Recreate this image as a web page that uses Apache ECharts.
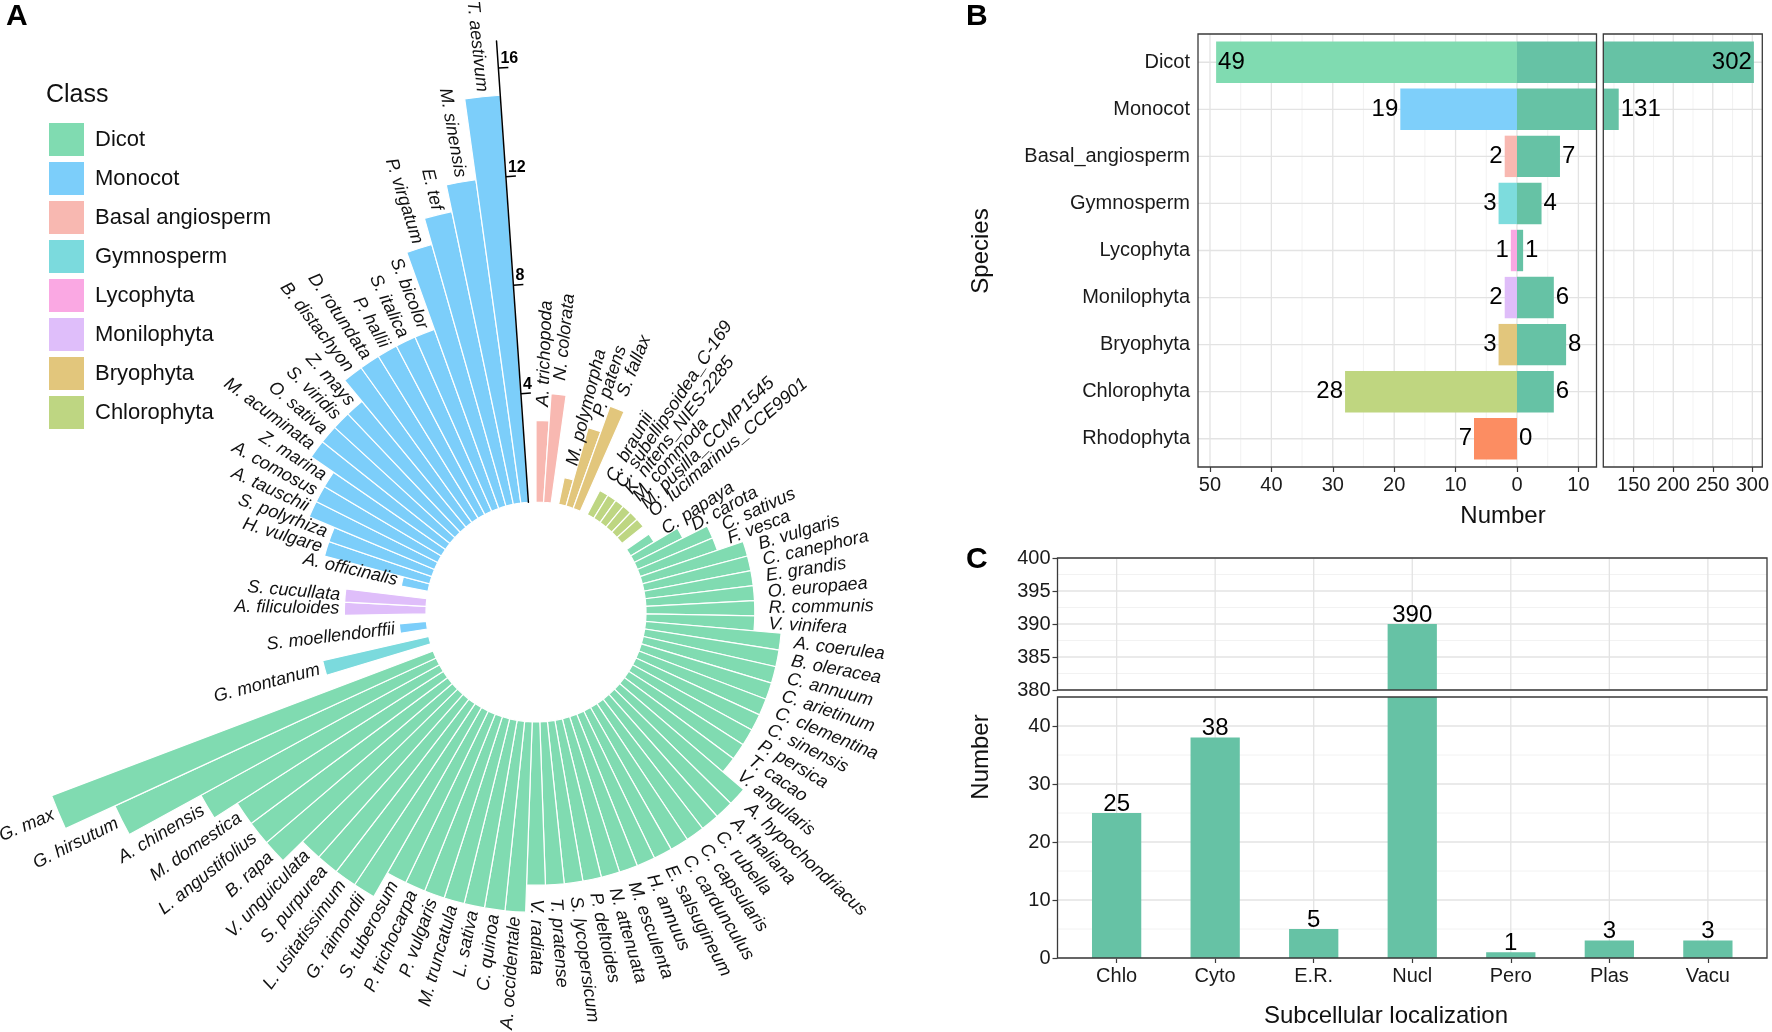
<!DOCTYPE html>
<html><head><meta charset="utf-8">
<script src="https://cdn.jsdelivr.net/npm/echarts@6/dist/echarts.min.js"></script>
<style>html,body{margin:0;padding:0;background:#fff}#c{width:1772px;height:1032px}</style>
</head><body><div id="c"></div>
<script>
// ================= Panel A data (clockwise from the radial axis) =================
const classNames  = ['Dicot','Monocot','Basal angiosperm','Gymnosperm','Lycophyta','Monilophyta','Bryophyta','Chlorophyta'];
const classColors = ['#80dbb1','#7ccefa','#f8b8b1','#7bdadd','#faa8e3','#dfbefa','#e2c67c','#bed682'];
// In the reference the S. moellendorffii bar is drawn in the Monocot blue
const drawnColorOverride = {'S. moellendorffii':'Monocot'};

const basalSpecies = ['A. trichopoda','N. colorata'];
const basalGenes   = [3,4];
const bryoSpecies  = ['M. polymorpha','P. patens','S. fallax'];
const bryoGenes    = [1,3,4];
const chloroSpecies = ['C. braunii','C. subellipsoidea_C-169','K. nitens_NIES-2285','M. commoda','M. pusilla_CCMP1545','O. lucimarinus_CCE9901'];
const chloroGenes   = [1,1,1,1,1,1];
const dicotSpecies = ['C. papaya','D. carota','C. sativus','F. vesca','B. vulgaris','C. canephora','E. grandis','O. europaea','R. communis','V. vinifera',
  'A. coerulea','B. oleracea','C. annuum','C. arietinum','C. clementina','C. sinensis','P. persica','T. cacao','V. angularis',
  'A. hypochondriacus','A. thaliana','C. rubella','C. capsularis','C. cardunculus','E. salsugineum','H. annuus','M. esculenta','N. attenuata','P. deltoides','S. lycopersicum','T. pratense','V. radiata',
  'A. occidentale','C. quinoa','L. sativa','M. truncatula','P. vulgaris','P. trichocarpa','S. tuberosum',
  'G. raimondii','L. usitatissimum','S. purpurea','V. unguiculata','B. rapa','L. angustifolius','M. domestica','A. chinensis','G. hirsutum','G. max'];
const dicotGenes = [1,2,3,3,4,4,4,4,4,4,
  5,5,5,5,5,5,5,5,5,
  6,6,6,6,6,6,6,6,6,6,6,6,6,
  7,7,7,7,7,7,7,
  8,8,8,8,9,9,9,10,13,15];
const gymnoSpecies = ['G. montanum'];
const gymnoGenes   = [4];
const lycoSpecies  = ['S. moellendorffii'];
const lycoGenes    = [1];
const moniloSpecies = ['A. filiculoides','S. cucullata'];
const moniloGenes   = [3,3];
const monocotSpecies = ['A. officinalis','H. vulgare','S. polyrhiza','A. tauschii','A. comosus','Z. marina','M. acuminata','O. sativa','S. viridis','Z. mays',
  'B. distachyon','D. rotundata','P. hallii','S. italica','S. bicolor','P. virgatum','E. tef','M. sinensis','T. aestivum'];
const monocotGenes = [1,4,4,5,5,5,6,6,6,6,7,7,7,7,7,10,11,12,15];
const radialTicks = [4,8,12,16];
const radialMax = 17;

// ================= Panel B data =================
const bClasses      = ['Dicot','Monocot','Basal_angiosperm','Gymnosperm','Lycophyta','Monilophyta','Bryophyta','Chlorophyta','Rhodophyta'];
const bSpeciesCount = [49,19,2,3,1,2,3,28,7];
const bGeneCount    = [302,131,7,4,1,6,8,6,0];
const bLeftColors   = ['#80dbb1','#7ecffa','#f8b8b1','#7ddcdd','#f9a8e3','#dfbdf9','#e2c67c','#bfd680','#fc8d62'];
const bLeftTicks       = [-50,-40,-30,-20,-10,0,10];
const bLeftMinorTicks  = [-45,-35,-25,-15,-5,5];
const bRightTicks      = [150,200,250,300];
const bRightMinorTicks = [125,175,225,275];

// ================= Panel C data =================
const cCats   = ['Chlo','Cyto','E.R.','Nucl','Pero','Plas','Vacu'];
const cValues = [25,38,5,390,1,3,3];
const cUpperTicks = [380,385,390,395,400];
const cUpperMinor = [382.5,387.5,392.5,397.5];
const cLowerTicks = [0,10,20,30,40];
const cLowerMinor = [5,15,25,35,45];

// ================= build slots for panel A =================
const groupsA = [
  ['Basal angiosperm', basalSpecies, basalGenes],
  ['Bryophyta', bryoSpecies, bryoGenes],
  ['Chlorophyta', chloroSpecies, chloroGenes],
  ['Dicot', dicotSpecies, dicotGenes],
  ['Gymnosperm', gymnoSpecies, gymnoGenes],
  ['Lycophyta', lycoSpecies, lycoGenes],
  ['Monilophyta', moniloSpecies, moniloGenes],
  ['Monocot', monocotSpecies, monocotGenes]
];
const slotName = [], slotValue = [], slotClass = [];
groupsA.forEach(([cls, sp, gn]) => {
  sp.forEach((s, i) => { slotName.push(s); slotValue.push(gn[i]); slotClass.push(cls); });
  slotName.push(''); slotValue.push(null); slotClass.push(null);
});
const nSlots = slotName.length;

const FONT = '"Liberation Sans", Arial, Helvetica, sans-serif';
const MAJOR = '#e3e3e3', MINOR = '#f0f0f0', FRAME = '#3a3a3a';
const CENTER = [536, 612], RADII = [110, 110 + 27.2 * radialMax];

const seriesA = classNames.map((cls, ci) => ({
  type: 'bar', name: cls, coordinateSystem: 'polar', polarIndex: 0, stack: 'A',
  barCategoryGap: '0%', z: 2, silent: true,
  itemStyle: { color: classColors[ci], borderColor: '#fff', borderWidth: 1.2 },
  data: slotValue.map((v, i) => {
    if (slotClass[i] !== cls) return '-';
    const ov = drawnColorOverride[slotName[i]];
    return ov ? { value: v, itemStyle: { color: classColors[classNames.indexOf(ov)] } } : v;
  })
}));

const labelSeriesA = {
  type: 'custom', coordinateSystem: 'polar', polarIndex: 0, z: 5, silent: true,
  data: slotValue.map((v, i) => [v, i]).filter(d => d[0] !== null),
  renderItem(params, api) {
    const v = api.value(0), idx = api.value(1);
    const p = api.coord([v, idx]);
    const cx = params.coordSys.cx, cy = params.coordSys.cy;
    const dx = p[0] - cx, dy = p[1] - cy, d = Math.hypot(dx, dy);
    const right = dx > -1;
    const pad = right ? 14 : 5;
    const x = cx + dx / d * (d + pad), y = cy + dy / d * (d + pad);
    const theta = Math.atan2(-dy, dx);
    return { type: 'text', x, y, rotation: right ? theta : theta + Math.PI,
      style: { text: slotName[idx], fill: '#111', fontSize: 18, fontStyle: 'italic', fontFamily: FONT,
               align: right ? 'left' : 'right', verticalAlign: 'middle' } };
  }
};

const radialTickSeries = {
  type: 'custom', coordinateSystem: 'polar', polarIndex: 1, z: 12, silent: true,
  data: radialTicks.map(v => [v, 0]),
  renderItem(params, api) {
    const v = api.value(0);
    const p = api.coord([v, 0]);
    const cx = params.coordSys.cx, cy = params.coordSys.cy;
    const dx = p[0] - cx, dy = p[1] - cy, d = Math.hypot(dx, dy);
    const ux = dx / d, uy = dy / d, px = -uy, py = ux;
    return { type: 'group', children: [
      { type: 'line', shape: { x1: p[0], y1: p[1], x2: p[0] + px * 10, y2: p[1] + py * 10 }, style: { stroke: '#000', lineWidth: 1.5 } },
      { type: 'text', x: p[0] + px * 2, y: p[1] + py * 2 - 1,
        style: { text: String(v), fill: '#000', fontSize: 16, fontWeight: 'bold', fontFamily: FONT, align: 'left', verticalAlign: 'bottom' } }
    ]};
  }
};

// ---------- panel frames (ggplot panel border incl. 0.6-band expansion) ----------
const FR = {
  b1: { x: 1198,   y: 34,  w: 398.5, h: 433 },
  b2: { x: 1603.3, y: 34,  w: 159,   h: 433 },
  c1: { x: 1057.5, y: 558, w: 709.5, h: 132 },
  c2: { x: 1057.5, y: 697, w: 709.5, h: 261 }
};
const bBand = FR.b1.h / (bClasses.length + 0.2);
const cBand = FR.c1.w / (cCats.length + 0.2);

// ---------- grid-line helper (drawn through the library's scales) ----------
function lines(xi, yi, dir, vals, fr, color, w) {
  return { type: 'custom', xAxisIndex: xi, yAxisIndex: yi, z: 1, silent: true,
    data: vals.map(v => dir === 'v' ? [v, 0] : [0, v]),
    renderItem(params, api) {
      if (dir === 'v') {
        const x = api.coord([api.value(0), 0])[0];
        return { type: 'line', shape: { x1: x, y1: fr.y, x2: x, y2: fr.y + fr.h }, style: { stroke: color, lineWidth: w } };
      }
      const y = api.coord([0, api.value(1)])[1];
      return { type: 'line', shape: { x1: fr.x, y1: y, x2: fr.x + fr.w, y2: y }, style: { stroke: color, lineWidth: w } };
    } };
}

const B_LEFT = [-51.95, 12.95], B_RIGHT = [111.5, 311];
const C_UP = [380, 400], C_LOW = [0, 45];
const axisTxt = { color: '#1a1a1a', fontSize: 20, fontFamily: FONT };
const tickStyle = { show: true, length: 5, lineStyle: { color: FRAME, width: 1.2 } };
const bGridTop = FR.b1.y + 0.1 * bBand, bGridH = bBand * bClasses.length;
const cGridLeft = FR.c1.x + 0.1 * cBand, cGridW = cBand * cCats.length;
const valLabel = { fontSize: 24, color: '#000', fontFamily: FONT };

const option = {
  animation: false,
  backgroundColor: '#fff',
  textStyle: { fontFamily: FONT },
  legend: {
    orient: 'vertical', left: 42, top: 116, itemWidth: 37, itemHeight: 35, itemGap: 2,
    icon: 'rect', selectedMode: false, data: classNames,
    textStyle: { fontSize: 22, color: '#111', fontFamily: FONT, padding: [0, 0, 0, 5] }
  },
  polar: [ { center: CENTER, radius: RADII }, { center: CENTER, radius: RADII } ],
  angleAxis: [
    { polarIndex: 0, type: 'category', data: slotName.map((n, i) => 's' + i), startAngle: 90, clockwise: true, boundaryGap: true, show: false },
    { polarIndex: 1, type: 'value', min: 0, max: 360, startAngle: 90 + 360 / nSlots, show: false }
  ],
  radiusAxis: [
    { polarIndex: 0, type: 'value', min: 0, max: radialMax, show: false },
    { polarIndex: 1, type: 'value', min: 0, max: radialMax, z: 10, axisLine: { show: true, lineStyle: { color: '#000', width: 1.5 } },
      axisTick: { show: false }, axisLabel: { show: false }, splitLine: { show: false } }
  ],
  grid: [
    { left: FR.b1.x, top: bGridTop, width: FR.b1.w, height: bGridH },
    { left: FR.b2.x, top: bGridTop, width: FR.b2.w, height: bGridH },
    { left: cGridLeft, top: FR.c1.y, width: cGridW, height: FR.c1.h },
    { left: cGridLeft, top: FR.c2.y, width: cGridW, height: FR.c2.h }
  ],
  xAxis: [
    { gridIndex: 0, type: 'value', min: B_LEFT[0], max: B_LEFT[1], minInterval: 10, maxInterval: 10,
      offset: FR.b1.y + FR.b1.h - (bGridTop + bGridH),
      axisLine: { show: false }, axisTick: tickStyle, splitLine: { show: false },
      axisLabel: Object.assign({}, axisTxt, { margin: 8, showMinLabel: false, showMaxLabel: false,
        formatter: v => (Math.abs(v % 10) < 1e-6 ? String(Math.abs(v)) : '') }) },
    { gridIndex: 1, type: 'value', min: B_RIGHT[0], max: B_RIGHT[1], minInterval: 50, maxInterval: 50,
      offset: FR.b2.y + FR.b2.h - (bGridTop + bGridH),
      axisLine: { show: false }, axisTick: tickStyle, splitLine: { show: false },
      axisLabel: Object.assign({}, axisTxt, { margin: 8, showMinLabel: false, showMaxLabel: false,
        formatter: v => (Math.abs(v % 50) < 1e-6 ? String(v) : '') }) },
    { gridIndex: 2, type: 'category', data: cCats, axisLine: { show: false }, axisTick: { show: false }, axisLabel: { show: false }, splitLine: { show: false } },
    { gridIndex: 3, type: 'category', data: cCats, axisLine: { show: false },
      axisTick: Object.assign({}, tickStyle, { alignWithLabel: true }),
      axisLabel: Object.assign({}, axisTxt, { margin: 8 }), splitLine: { show: false } }
  ],
  yAxis: [
    { gridIndex: 0, type: 'category', inverse: true, data: bClasses, axisLine: { show: false },
      axisTick: Object.assign({}, tickStyle, { alignWithLabel: true }),
      axisLabel: Object.assign({}, axisTxt, { margin: 8 }), splitLine: { show: false } },
    { gridIndex: 1, type: 'category', inverse: true, data: bClasses, axisLine: { show: false }, axisTick: { show: false }, axisLabel: { show: false }, splitLine: { show: false } },
    { gridIndex: 2, type: 'value', min: C_UP[0], max: C_UP[1], interval: 5, offset: cGridLeft - FR.c1.x,
      axisLine: { show: false }, axisTick: tickStyle, splitLine: { show: false },
      axisLabel: Object.assign({}, axisTxt, { margin: 7 }) },
    { gridIndex: 3, type: 'value', min: C_LOW[0], max: C_LOW[1], interval: 10, offset: cGridLeft - FR.c2.x,
      axisLine: { show: false }, axisTick: tickStyle, splitLine: { show: false },
      axisLabel: Object.assign({}, axisTxt, { margin: 7, showMaxLabel: false, formatter: v => (v % 10 === 0 ? String(v) : '') }) }
  ],
  series: [
    ...seriesA, labelSeriesA, radialTickSeries,
    // ---- panel B grid lines ----
    lines(0, 0, 'v', bLeftMinorTicks, FR.b1, MINOR, 0.9),
    lines(0, 0, 'v', bLeftTicks, FR.b1, MAJOR, 1.3),
    lines(0, 0, 'h', bClasses.map((c, i) => i), FR.b1, MAJOR, 1.3),
    lines(1, 1, 'v', bRightMinorTicks, FR.b2, MINOR, 0.9),
    lines(1, 1, 'v', bRightTicks, FR.b2, MAJOR, 1.3),
    lines(1, 1, 'h', bClasses.map((c, i) => i), FR.b2, MAJOR, 1.3),
    // ---- panel B bars: left facet ----
    { type: 'bar', name: 'species', xAxisIndex: 0, yAxisIndex: 0, barWidth: '88%', barGap: '-100%', z: 3, clip: true,
      label: Object.assign({ show: true, distance: 2, formatter: p => String(Math.abs(p.value)) }, valLabel),
      data: bSpeciesCount.map((v, i) => ({ value: -v, itemStyle: { color: bLeftColors[i] },
        label: { position: (-v < B_LEFT[0] + 5) ? 'insideLeft' : 'left' } })) },
    { type: 'bar', name: 'genes', xAxisIndex: 0, yAxisIndex: 0, barWidth: '88%', barGap: '-100%', z: 3, clip: true,
      itemStyle: { color: '#66c2a5' },
      label: Object.assign({ distance: 2, position: 'right' }, valLabel),
      data: bGeneCount.map(v => ({ value: v, label: { show: v <= B_LEFT[1] } })) },
    // ---- panel B bars: right facet ----
    { type: 'bar', name: 'genes2', xAxisIndex: 1, yAxisIndex: 1, barWidth: '88%', z: 3, clip: true,
      itemStyle: { color: '#66c2a5' },
      label: Object.assign({ distance: 2 }, valLabel),
      data: bGeneCount.map(v => ({ value: v, label: { show: v >= B_RIGHT[0], position: (v > B_RIGHT[1] - 40) ? 'insideRight' : 'right' } })) },
    // ---- panel C grid lines ----
    lines(2, 2, 'h', cUpperMinor, FR.c1, MINOR, 0.9),
    lines(2, 2, 'h', cUpperTicks, FR.c1, MAJOR, 1.3),
    lines(2, 2, 'v', cCats.map((c, i) => i), FR.c1, MAJOR, 1.3),
    lines(3, 3, 'h', cLowerMinor, FR.c2, MINOR, 0.9),
    lines(3, 3, 'h', cLowerTicks, FR.c2, MAJOR, 1.3),
    lines(3, 3, 'v', cCats.map((c, i) => i), FR.c2, MAJOR, 1.3),
    // ---- panel C bars ----
    { type: 'bar', xAxisIndex: 2, yAxisIndex: 2, barWidth: '50%', z: 3, clip: true, itemStyle: { color: '#66c2a5' },
      label: Object.assign({ position: 'top', distance: -3 }, valLabel),
      data: cValues.map(v => ({ value: v, label: { show: v >= C_UP[0] } })) },
    { type: 'bar', xAxisIndex: 3, yAxisIndex: 3, barWidth: '50%', z: 3, clip: true, itemStyle: { color: '#66c2a5' },
      label: Object.assign({ position: 'top', distance: -3 }, valLabel),
      data: cValues.map(v => ({ value: v, label: { show: v <= C_LOW[1] } })) }
  ],
  graphic: [
    ...['b1', 'b2', 'c1', 'c2'].map(k => ({ type: 'rect', z: 100, silent: true,
      shape: { x: FR[k].x, y: FR[k].y, width: FR[k].w, height: FR[k].h },
      style: { fill: 'none', stroke: FRAME, lineWidth: 1.3 } })),
    { type: 'text', left: 6, top: 2, style: { text: 'A', fontSize: 30, fontWeight: 'bold', fill: '#000', fontFamily: FONT } },
    { type: 'text', left: 966, top: 2, style: { text: 'B', fontSize: 30, fontWeight: 'bold', fill: '#000', fontFamily: FONT } },
    { type: 'text', left: 966, top: 545, style: { text: 'C', fontSize: 30, fontWeight: 'bold', fill: '#000', fontFamily: FONT } },
    { type: 'text', x: 46, y: 95, style: { text: 'Class', fontSize: 25, fill: '#111', fontFamily: FONT, verticalAlign: 'middle' } },
    { type: 'text', x: 981, y: 251, rotation: Math.PI / 2, style: { text: 'Species', fontSize: 24, fill: '#111', fontFamily: FONT, align: 'center', verticalAlign: 'middle' } },
    { type: 'text', x: 1503, y: 516, style: { text: 'Number', fontSize: 24, fill: '#111', fontFamily: FONT, align: 'center', verticalAlign: 'middle' } },
    { type: 'text', x: 981, y: 757, rotation: Math.PI / 2, style: { text: 'Number', fontSize: 24, fill: '#111', fontFamily: FONT, align: 'center', verticalAlign: 'middle' } },
    { type: 'text', x: 1386, y: 1016, style: { text: 'Subcellular localization', fontSize: 24, fill: '#111', fontFamily: FONT, align: 'center', verticalAlign: 'middle' } }
  ]
};

const chart = echarts.init(document.getElementById('c'), null, { renderer: 'canvas', width: 1772, height: 1032 });
chart.setOption(option);
</script>
</body></html>
